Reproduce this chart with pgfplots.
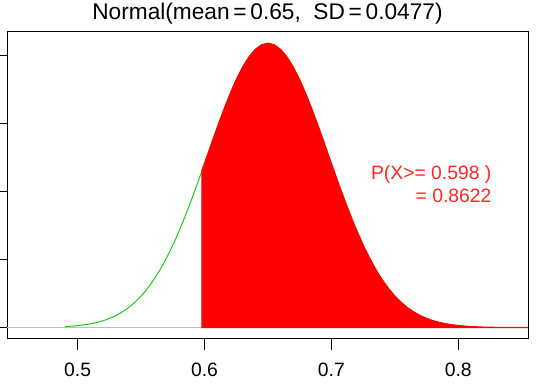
\documentclass[border=0pt]{standalone}
\usepackage{pgfplots}
\pgfplotsset{compat=1.18}
\usepackage{fontspec}
\setmainfont{Liberation Sans}
\definecolor{rgreen}{RGB}{30,200,30}
\definecolor{rgray}{RGB}{190,190,190}
\definecolor{rtext}{RGB}{255,40,40}
\begin{document}
\begin{tikzpicture}
\begin{axis}[
  at={(0,0)}, anchor=south west,
  scale only axis, width=390.75pt, height=230.25pt,
  xmin=0.4443, xmax=0.8550, ymin=-0.3345, ymax=8.698,
  xtick={0.5,0.6,0.7,0.8},
  xticklabels={0.5,0.6,0.7,0.8},
  ytick={0,2,4,6,8}, yticklabels={},
  xtick pos=bottom, ytick pos=left,
  tick align=outside, major tick length=8.25pt,
  xtick style={black, line width=0.75pt},
  ytick style={black, line width=0.75pt},
  axis line style={black, line width=0.75pt},
  x tick label style={font=\fontsize{14.5}{16}\selectfont, yshift=-6pt},
  /pgf/number format/assume math mode=true,
  clip=true,
]
\addplot[rgray, line width=0.9pt] coordinates {(0.4443,0) (0.8550,0)};
\addplot[rgreen, line width=0.75pt, smooth] coordinates {
(0.490,0.0301)(0.495,0.0426)(0.500,0.0596)(0.505,0.0824)(0.510,0.1127)(0.515,0.1524)
(0.520,0.2040)(0.525,0.2699)(0.530,0.3533)(0.535,0.4573)(0.540,0.5855)(0.545,0.7416)
(0.550,0.9290)(0.555,1.1512)(0.560,1.4104)(0.565,1.7093)(0.570,2.0492)(0.575,2.4298)
(0.580,2.8492)(0.585,3.3051)(0.590,3.7914)(0.595,4.3024)(0.600,4.8285)(0.605,5.3595)
(0.610,5.8843)(0.615,6.3898)(0.620,6.8628)(0.625,7.2902)(0.630,7.6598)(0.635,7.9602)
(0.640,8.1818)(0.645,8.3178)(0.650,8.3636)(0.655,8.3178)(0.660,8.1818)(0.665,7.9602)
(0.670,7.6598)(0.675,7.2902)(0.680,6.8628)(0.685,6.3898)(0.690,5.8843)(0.695,5.3595)
(0.700,4.8285)(0.705,4.3024)(0.710,3.7914)(0.715,3.3051)(0.720,2.8492)(0.725,2.4298)
(0.730,2.0492)(0.735,1.7093)(0.740,1.4104)(0.745,1.1512)(0.750,0.9290)(0.755,0.7416)
(0.760,0.5855)(0.765,0.4573)(0.770,0.3533)(0.775,0.2699)(0.780,0.2040)(0.785,0.1524)
(0.790,0.1127)(0.795,0.0824)(0.800,0.0596)(0.805,0.0426)(0.810,0.0301)};
\addplot[draw=red, fill=red, line width=0.9pt] coordinates {
(0.598,0)(0.598,4.6167)(0.600,4.8285)(0.605,5.3595)
(0.610,5.8843)(0.615,6.3898)(0.620,6.8628)(0.625,7.2902)(0.630,7.6598)(0.635,7.9602)
(0.640,8.1818)(0.645,8.3178)(0.650,8.3636)(0.655,8.3178)(0.660,8.1818)(0.665,7.9602)
(0.670,7.6598)(0.675,7.2902)(0.680,6.8628)(0.685,6.3898)(0.690,5.8843)(0.695,5.3595)
(0.700,4.8285)(0.705,4.3024)(0.710,3.7914)(0.715,3.3051)(0.720,2.8492)(0.725,2.4298)
(0.730,2.0492)(0.735,1.7093)(0.740,1.4104)(0.745,1.1512)(0.750,0.9290)(0.755,0.7416)
(0.760,0.5855)(0.765,0.4573)(0.770,0.3533)(0.775,0.2699)(0.780,0.2040)(0.785,0.1524)
(0.790,0.1127)(0.795,0.0824)(0.800,0.0596)(0.805,0.0426)(0.810,0.0301)(0.820,0.0146)
(0.830,0.0069)(0.840,0.0030)(0.850,0.0012)(0.860,0.0005)(0.860,0)} -- cycle;
\node[anchor=base east, text=rtext, font=\fontsize{14.5}{16}\selectfont] at (axis cs:0.8299,4.35) {P(X>= 0.598 )};
\node[anchor=base east, text=rtext, font=\fontsize{14.5}{16}\selectfont] at (axis cs:0.8299,3.67) {= 0.8622};
\end{axis}
\node[anchor=base, font=\fontsize{17}{19}\selectfont] at (195.375pt,239.25pt) {Normal(mean\,=\,0.65,\ \ SD\,=\,0.0477)};
\pgfresetboundingbox
\useasboundingbox (-5.25pt,-37.5pt) rectangle (397.5pt,254.25pt);
\end{tikzpicture}
\end{document}
